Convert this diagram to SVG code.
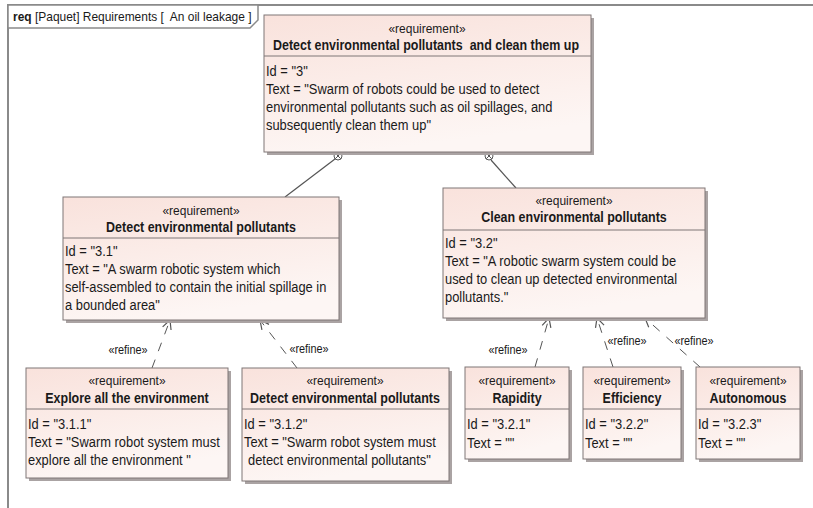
<svg xmlns="http://www.w3.org/2000/svg" width="813" height="508" viewBox="0 0 813 508">
<defs>
 <linearGradient id="g" x1="0" y1="0" x2="0.3" y2="1">
  <stop offset="0" stop-color="#f9e2dc"/>
  <stop offset="1" stop-color="#fdf6f4"/>
 </linearGradient>
 <marker id="arr" markerWidth="12" markerHeight="12" refX="10" refY="5" orient="auto" markerUnits="userSpaceOnUse" viewBox="0 0 12 10">
  <path d="M1,0.5 L10,5 L1,9.5" fill="none" stroke="#555" stroke-width="1.2"/>
 </marker>
</defs>
<style>
 .box{fill:url(#g);stroke:#7f7676;stroke-width:1}
 .sh{fill:#aaa3a3}
 .sep{stroke:#7f7676;stroke-width:1}
 text{font-family:"Liberation Sans",Arial,sans-serif;fill:#1a1a1a}
 .st{font-size:13px;text-anchor:middle}
 .ti{font-size:14.5px;font-weight:bold;text-anchor:middle}
 .bd{font-size:15px}
 .lbl{font-size:12.5px;text-anchor:middle}
 .dep{stroke:#555;stroke-width:1;fill:none;stroke-dasharray:9 9;marker-end:url(#arr)}
 .own{stroke:#555;stroke-width:1.2;fill:none}
 .frame{stroke:#8a8a8a;stroke-width:2;fill:none}
</style>
<rect width="813" height="508" fill="#ffffff"/>
<g id="frame">
 <path class="frame" d="M8,508 V5 H813"/>
 <path d="M8,5 H258 V20 L250,28 H8 Z" fill="#ffffff" stroke="#8a8a8a" stroke-width="1.5"/>
 <text transform="matrix(.92 0 0 1 13 21)" style="font-size:13px"><tspan font-weight="bold">req</tspan> [Paquet] Requirements [&#160; An oil leakage ]</text>
</g>
<g id="connectors">
 <circle cx="338" cy="156" r="4" fill="#fff" stroke="#555" stroke-width="1"/>
 <path d="M335.2,153.2 L340.8,158.8 M340.8,153.2 L335.2,158.8" stroke="#555" stroke-width="1"/>
 <line class="own" x1="335" y1="159" x2="285" y2="197"/>
 <circle cx="489" cy="156" r="4" fill="#fff" stroke="#555" stroke-width="1"/>
 <path d="M486.2,153.2 L491.8,158.8 M491.8,153.2 L486.2,158.8" stroke="#555" stroke-width="1"/>
 <line class="own" x1="491" y1="160" x2="516" y2="188"/>
 <line class="dep" x1="152" y1="368" x2="170" y2="320"/>
 <text class="lbl" transform="matrix(.87 0 0 1 128 354)">«refine»</text>
 <line class="dep" x1="297" y1="368" x2="260" y2="320"/>
 <text class="lbl" transform="matrix(.87 0 0 1 309 353)">«refine»</text>
 <line class="dep" x1="535" y1="367" x2="549" y2="318"/>
 <text class="lbl" transform="matrix(.87 0 0 1 508 354)">«refine»</text>
 <line class="dep" x1="613" y1="367" x2="597" y2="318"/>
 <text class="lbl" transform="matrix(.87 0 0 1 627 345)">«refine»</text>
 <line class="dep" x1="700" y1="367" x2="645" y2="318"/>
 <text class="lbl" transform="matrix(.87 0 0 1 694 345)">«refine»</text>
</g>
<g id="req3">
 <rect class="sh" x="267" y="18" width="327" height="137"/>
 <rect class="box" x="264" y="15" width="327" height="137"/>
 <line class="sep" x1="264" y1="56" x2="591" y2="56"/>
 <text class="st" transform="matrix(.92 0 0 1 427 33)">«requirement»</text>
 <text class="ti" transform="matrix(.86 0 0 1 426 50)">Detect environmental pollutants&#160; and clean them up</text>
 <text class="bd" transform="matrix(.86 0 0 1 266 76)">Id = "3"</text>
 <text class="bd" transform="matrix(.86 0 0 1 266 94)">Text = "Swarm of robots could be used to detect</text>
 <text class="bd" transform="matrix(.86 0 0 1 266 112)">environmental pollutants such as oil spillages, and</text>
 <text class="bd" transform="matrix(.86 0 0 1 266 130)">subsequently clean them up"</text>
</g>
<g id="req31">
 <rect class="sh" x="66" y="200" width="276" height="123"/>
 <rect class="box" x="63" y="197" width="276" height="123"/>
 <line class="sep" x1="63" y1="238" x2="339" y2="238"/>
 <text class="st" transform="matrix(.92 0 0 1 201 215)">«requirement»</text>
 <text class="ti" transform="matrix(.86 0 0 1 201 232)">Detect environmental pollutants</text>
 <text class="bd" transform="matrix(.86 0 0 1 65 256)">Id = "3.1"</text>
 <text class="bd" transform="matrix(.86 0 0 1 65 274)">Text = "A swarm robotic system which</text>
 <text class="bd" transform="matrix(.86 0 0 1 65 292)">self-assembled to contain the initial spillage in</text>
 <text class="bd" transform="matrix(.86 0 0 1 65 310)">a bounded area"</text>
</g>
<g id="req32">
 <rect class="sh" x="446" y="191" width="262" height="130"/>
 <rect class="box" x="443" y="188" width="262" height="130"/>
 <line class="sep" x1="443" y1="230" x2="705" y2="230"/>
 <text class="st" transform="matrix(.92 0 0 1 574 205)">«requirement»</text>
 <text class="ti" transform="matrix(.86 0 0 1 574 222)">Clean environmental pollutants</text>
 <text class="bd" transform="matrix(.86 0 0 1 445 248)">Id = "3.2"</text>
 <text class="bd" transform="matrix(.86 0 0 1 445 266)">Text = "A robotic swarm system could be</text>
 <text class="bd" transform="matrix(.86 0 0 1 445 284)">used to clean up detected environmental</text>
 <text class="bd" transform="matrix(.86 0 0 1 445 302)">pollutants."</text>
</g>
<g id="req311">
 <rect class="sh" x="29" y="371" width="202" height="110"/>
 <rect class="box" x="26" y="368" width="202" height="110"/>
 <line class="sep" x1="26" y1="409" x2="228" y2="409"/>
 <text class="st" transform="matrix(.92 0 0 1 127 385)">«requirement»</text>
 <text class="ti" transform="matrix(.86 0 0 1 127 403)">Explore all the environment</text>
 <text class="bd" transform="matrix(.86 0 0 1 28 429)">Id = "3.1.1"</text>
 <text class="bd" transform="matrix(.86 0 0 1 28 447)">Text = "Swarm robot system must</text>
 <text class="bd" transform="matrix(.86 0 0 1 28 465)">explore all the environment "</text>
</g>
<g id="req312">
 <rect class="sh" x="245" y="371" width="207" height="113"/>
 <rect class="box" x="242" y="368" width="207" height="113"/>
 <line class="sep" x1="242" y1="409" x2="449" y2="409"/>
 <text class="st" transform="matrix(.92 0 0 1 345 385)">«requirement»</text>
 <text class="ti" transform="matrix(.86 0 0 1 345 403)">Detect environmental pollutants</text>
 <text class="bd" transform="matrix(.86 0 0 1 244 429)">Id = "3.1.2"</text>
 <text class="bd" transform="matrix(.86 0 0 1 244 447)">Text = "Swarm robot system must</text>
 <text class="bd" transform="matrix(.86 0 0 1 248 465)">detect environmental pollutants"</text>
</g>
<g id="req321">
 <rect class="sh" x="468" y="370" width="104" height="92"/>
 <rect class="box" x="465" y="367" width="104" height="92"/>
 <line class="sep" x1="465" y1="409" x2="569" y2="409"/>
 <text class="st" transform="matrix(.92 0 0 1 517 385)">«requirement»</text>
 <text class="ti" transform="matrix(.86 0 0 1 517 403)">Rapidity</text>
 <text class="bd" transform="matrix(.86 0 0 1 467 429)">Id = "3.2.1"</text>
 <text class="bd" transform="matrix(.86 0 0 1 467 448)">Text = ""</text>
</g>
<g id="req322">
 <rect class="sh" x="586" y="370" width="98" height="92"/>
 <rect class="box" x="583" y="367" width="98" height="92"/>
 <line class="sep" x1="583" y1="409" x2="681" y2="409"/>
 <text class="st" transform="matrix(.92 0 0 1 632 385)">«requirement»</text>
 <text class="ti" transform="matrix(.86 0 0 1 632 403)">Efficiency</text>
 <text class="bd" transform="matrix(.86 0 0 1 585 429)">Id = "3.2.2"</text>
 <text class="bd" transform="matrix(.86 0 0 1 585 448)">Text = ""</text>
</g>
<g id="req323">
 <rect class="sh" x="699" y="370" width="104" height="92"/>
 <rect class="box" x="696" y="367" width="104" height="92"/>
 <line class="sep" x1="696" y1="409" x2="800" y2="409"/>
 <text class="st" transform="matrix(.92 0 0 1 748 385)">«requirement»</text>
 <text class="ti" transform="matrix(.86 0 0 1 748 403)">Autonomous</text>
 <text class="bd" transform="matrix(.86 0 0 1 698 429)">Id = "3.2.3"</text>
 <text class="bd" transform="matrix(.86 0 0 1 698 448)">Text = ""</text>
</g>
</svg>
